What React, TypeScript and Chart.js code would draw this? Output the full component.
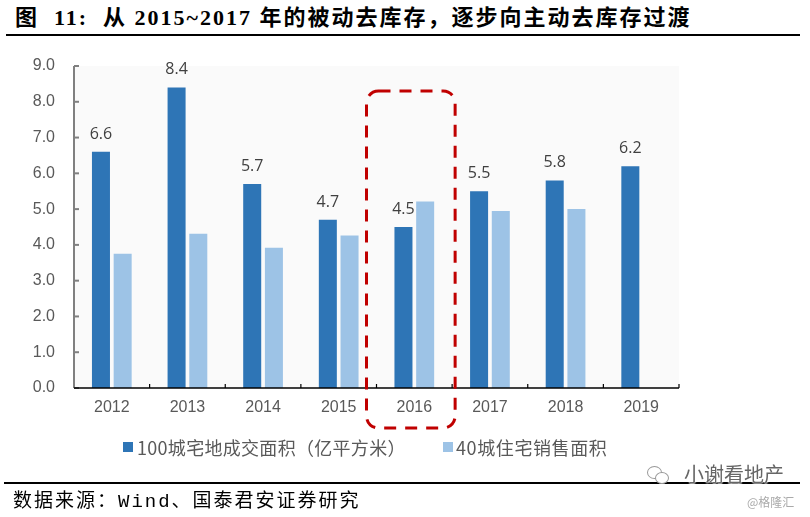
import React, { useEffect, useRef } from "react";
import { Chart, registerables } from "chart.js";

Chart.register(...registerables);

const categories = ["2012", "2013", "2014", "2015", "2016", "2017", "2018", "2019"];
const landArea = [6.6, 8.4, 5.7, 4.7, 4.5, 5.5, 5.8, 6.2];
const salesArea = [3.75, 4.31, 3.92, 4.26, 5.21, 4.95, 5.0, null];
const seriesNames = ["100城宅地成交面积（亿平方米）", "40城住宅销售面积"];
const yMin = 0;
const yMax = 9;
const yStep = 1;
const highlightIndex = 4;
const highlightTopValue = 8.3;

const DARK = "#2E75B6";
const LIGHT = "#9DC3E6";

const customPlugin = {
  id: "custom",
  beforeDraw(chart: any) {
    const { ctx, chartArea: a } = chart;
    ctx.save();
    ctx.fillStyle = "#fafafa";
    ctx.fillRect(a.left, a.top, a.right - a.left, a.bottom - a.top);
    ctx.restore();
  },
  afterDatasetsDraw(chart: any) {
    const { ctx, chartArea: a } = chart;
    const xs = chart.scales.x;
    const ys = chart.scales.y;
    ctx.save();
    // y axis line and inward ticks
    ctx.strokeStyle = "#808080";
    ctx.lineWidth = 2;
    ctx.beginPath();
    ctx.moveTo(a.left, a.top);
    ctx.lineTo(a.left, a.bottom);
    ctx.stroke();
    for (let v = yMin; v <= yMax; v += yStep) {
      const y = ys.getPixelForValue(v);
      ctx.beginPath();
      ctx.moveTo(a.left, y);
      ctx.lineTo(a.left + 5, y);
      ctx.stroke();
    }
    // x axis line and inward ticks at category boundaries
    ctx.strokeStyle = "#000";
    ctx.lineWidth = 1.5;
    ctx.beginPath();
    ctx.moveTo(a.left, a.bottom);
    ctx.lineTo(a.right, a.bottom);
    ctx.stroke();
    ctx.lineWidth = 1.2;
    for (let i = 1; i <= categories.length; i++) {
      const x =
        i < categories.length
          ? (xs.getPixelForValue(i - 1) + xs.getPixelForValue(i)) / 2
          : a.right;
      ctx.beginPath();
      ctx.moveTo(x, a.bottom);
      ctx.lineTo(x, a.bottom - 4);
      ctx.stroke();
    }
    // data labels on dark bars
    const meta = chart.getDatasetMeta(0);
    ctx.fillStyle = "#404040";
    ctx.font = '16px "Open Sans", "Liberation Sans", sans-serif';
    ctx.textAlign = "center";
    ctx.textBaseline = "alphabetic";
    meta.data.forEach((bar: any, i: number) => {
      const v = landArea[i];
      if (v == null) return;
      ctx.fillText(v.toFixed(1), bar.x, bar.y - 13);
    });
    // dashed highlight box
    const bLeft =
      (xs.getPixelForValue(highlightIndex - 1) + xs.getPixelForValue(highlightIndex)) / 2 - 10;
    const bRight =
      (xs.getPixelForValue(highlightIndex) + xs.getPixelForValue(highlightIndex + 1)) / 2 + 3;
    const bTop = ys.getPixelForValue(highlightTopValue);
    const bBottom = a.bottom + 40;
    const r = 12;
    ctx.strokeStyle = "#C00000";
    ctx.lineWidth = 3;
    ctx.setLineDash([12, 9]);
    ctx.beginPath();
    ctx.moveTo(bLeft + r, bTop);
    ctx.lineTo(bRight - r, bTop);
    ctx.arcTo(bRight, bTop, bRight, bTop + r, r);
    ctx.lineTo(bRight, bBottom - r);
    ctx.arcTo(bRight, bBottom, bRight - r, bBottom, r);
    ctx.lineTo(bLeft + r, bBottom);
    ctx.arcTo(bLeft, bBottom, bLeft, bBottom - r, r);
    ctx.lineTo(bLeft, bTop + r);
    ctx.arcTo(bLeft, bTop, bLeft + r, bTop, r);
    ctx.closePath();
    ctx.stroke();
    ctx.restore();
  },
};

export default function App() {
  const ref = useRef<HTMLCanvasElement | null>(null);
  useEffect(() => {
    if (!ref.current) return;
    const chart = new Chart(ref.current, {
      type: "bar",
      data: {
        labels: categories,
        datasets: [
          {
            label: seriesNames[0],
            data: landArea,
            backgroundColor: DARK,
            barPercentage: 0.83,
            categoryPercentage: 0.574,
          },
          {
            label: seriesNames[1],
            data: salesArea as any,
            backgroundColor: LIGHT,
            barPercentage: 0.83,
            categoryPercentage: 0.574,
          },
        ],
      },
      options: {
        animation: false,
        responsive: false,
        devicePixelRatio: 1,
        layout: { padding: { left: 0, top: 66, right: 131, bottom: 99 } },
        plugins: {
          legend: { display: false },
          tooltip: { enabled: false },
          title: { display: false },
        },
        scales: {
          x: {
            grid: { display: false, drawTicks: false },
            border: { display: false },
            ticks: {
              color: "#595959",
              font: { family: '"Liberation Sans", Arial, sans-serif', size: 16 },
              padding: 10,
              maxRotation: 0,
            },
            afterFit: (s: any) => {
              s.height = 30;
              s.paddingLeft = 0;
              s.paddingRight = 0;
            },
          },
          y: {
            min: yMin,
            max: yMax,
            grid: { display: false, drawTicks: false },
            border: { display: false },
            ticks: {
              stepSize: yStep,
              color: "#595959",
              font: { family: '"Liberation Sans", Arial, sans-serif', size: 16 },
              padding: 19,
              callback: (v: any) => Number(v).toFixed(1),
            },
            afterFit: (s: any) => {
              s.width = 74;
              s.paddingTop = 0;
              s.paddingBottom = 0;
            },
          },
        },
      },
      plugins: [customPlugin],
    });
    return () => chart.destroy();
  }, []);

  const abs = (o: any) => ({ position: "absolute" as const, ...o });

  return (
    <div style={abs({ left: 0, top: 0, width: 810, height: 517, background: "#fff", overflow: "hidden" })}>
      <div
        style={abs({
          left: 15,
          top: 7,
          fontFamily: '"Liberation Serif", "Noto Sans CJK SC", serif',
          fontWeight: "bold",
          fontSize: 22,
          lineHeight: "22px",
          letterSpacing: "2px",
          whiteSpace: "nowrap",
          color: "#000",
        })}
      >
        图&nbsp;&nbsp;11:&nbsp;&nbsp;从 2015~2017 年的被动去库存，逐步向主动去库存过渡
      </div>
      <div style={abs({ left: 6, top: 34, width: 794, height: 2, background: "#000" })} />
      <canvas ref={ref} width={810} height={517} style={abs({ left: 0, top: 0, width: 810, height: 517 })} />
      <div style={abs({ left: 123, top: 442, width: 10, height: 10, background: DARK })} />
      <div
        style={abs({
          left: 137,
          top: 438,
          fontFamily: '"Noto Sans CJK SC", sans-serif',
          fontSize: 18,
          lineHeight: "18px",
          letterSpacing: "0.3px",
          color: "#595959",
          whiteSpace: "nowrap",
        })}
      >
        {seriesNames[0]}
      </div>
      <div style={abs({ left: 443, top: 442, width: 10, height: 10, background: LIGHT })} />
      <div
        style={abs({
          left: 456,
          top: 438,
          fontFamily: '"Noto Sans CJK SC", sans-serif',
          fontSize: 18,
          lineHeight: "18px",
          letterSpacing: "0.6px",
          color: "#595959",
          whiteSpace: "nowrap",
        })}
      >
        {seriesNames[1]}
      </div>
      <div style={abs({ left: 4, top: 482, width: 796, height: 1.5, background: "#000" })} />
      <div
        style={abs({
          left: 13,
          top: 493,
          fontFamily: '"Liberation Mono", "Noto Sans CJK SC", monospace',
          fontSize: 19,
          lineHeight: "19px",
          letterSpacing: "2px",
          color: "#000",
          whiteSpace: "nowrap",
        })}
      >
        数据来源：Wind、国泰君安证券研究
      </div>
      <div
        style={abs({
          left: 647,
          top: 466,
          width: 13,
          height: 11,
          borderRadius: "50%",
          border: "1px solid #999",
          background: "#fff",
        })}
      />
      <div
        style={abs({
          left: 655,
          top: 472,
          width: 12,
          height: 10,
          borderRadius: "50%",
          border: "1px solid #999",
          background: "#fff",
        })}
      />
      <div
        style={abs({
          left: 684,
          top: 463,
          fontFamily: '"Noto Sans CJK SC", sans-serif',
          fontSize: 20,
          lineHeight: "22px",
          color: "#666",
          whiteSpace: "nowrap",
          textShadow: "0 0 2px #fff, 0 0 2px #fff, 0 0 2px #fff",
        })}
      >
        小谢看地产
      </div>
      <div
        style={abs({
          left: 747,
          top: 495,
          fontFamily: '"Noto Sans CJK SC", sans-serif',
          fontSize: 12,
          lineHeight: "14px",
          color: "#aaa",
          whiteSpace: "nowrap",
        })}
      >
        @格隆汇
      </div>
    </div>
  );
}
